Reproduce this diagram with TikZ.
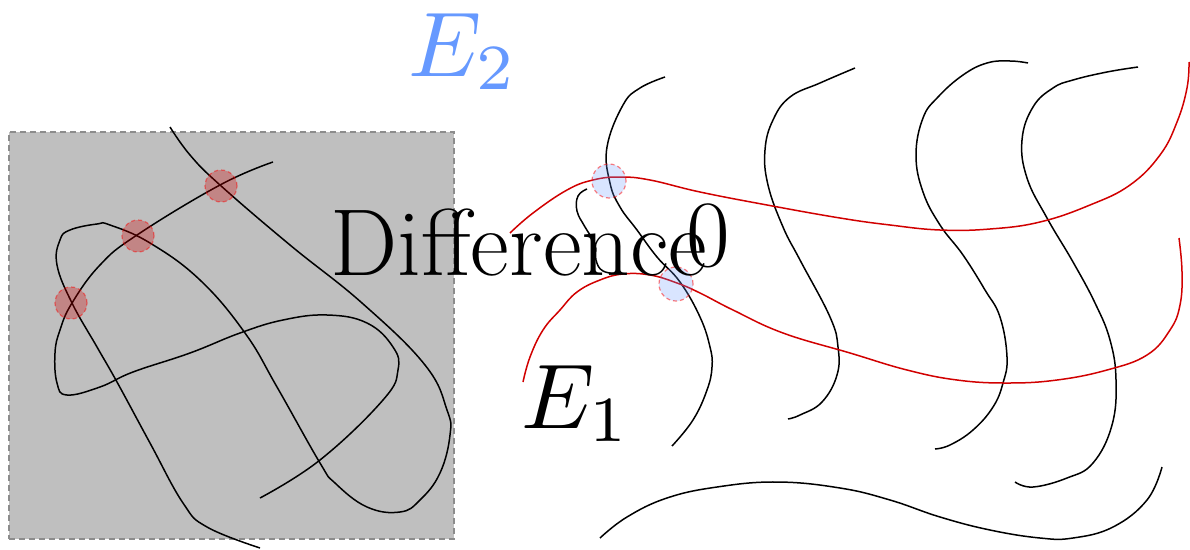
\documentclass[tikz,border=0pt]{standalone}
\usetikzlibrary{calc}
\definecolor{etwo}{HTML}{6699FF}
\definecolor{curvered}{rgb}{0.82,0,0}
\tikzset{
  curve/.style={line width=1.5pt, black},
  redcurve/.style={line width=1.5pt, curvered},
  reddot/.style={circle, minimum size=32pt, inner sep=0pt, fill=red!80!black, fill opacity=0.3, draw=red, draw opacity=0.45, dash pattern=on 4pt off 3pt, line width=1.2pt},
  bluedot/.style={circle, minimum size=34pt, inner sep=0pt, fill=etwo, fill opacity=0.25, draw=red, draw opacity=0.5, dash pattern=on 4pt off 3pt, line width=1.2pt},
  bigtext/.style={inner sep=0pt, font=\fontsize{95}{100}\selectfont},
  mathtext/.style={inner sep=0pt, font=\normalsize, scale=9.2},
}
\begin{document}
\begin{tikzpicture}[x=1pt, y=-1pt]
\useasboundingbox (0,0) rectangle (1190,549);
% gray region
\node[draw=black!45, dash pattern=on 6pt off 4pt, line width=1.5pt, fill=black!25, minimum width=445pt, minimum height=407pt, inner sep=0pt, anchor=north west] (box) at (8,131) {};
% left curves
\draw[curve] plot[smooth, tension=0.7] coordinates {(170,127) (190,155) (220,185) (290,245) (362,303) (425,365) (447,410) (450,435) (440,473) (420,500) (400,512) (367,507) (335,483) (320,463) (277,387) (245,333) (200,280) (150,243) (110,225) (97,224) (70,230) (60,240) (57,265) (72,303) (97,347) (117,382) (150,443) (183,503) (207,527) (260,548)};
\draw[curve] plot[smooth, tension=0.7] coordinates {(273,162) (220,185) (137,235) (100,265) (72,303) (60,330) (55,353) (57,383) (67,395) (100,387) (133,372) (190,353) (240,333) (283,320) (327,315) (367,323) (393,347) (398,370) (383,400) (320,460) (260,498)};
% right black waves
\draw[curve] plot[smooth, tension=0.7] coordinates {(665,77) (640,88) (623,105) (607,147) (610,183) (620,207) (637,230) (657,257) (680,282) (700,317) (710,347) (712,367) (707,390) (693,420) (672,446)};
\draw[curve] plot[smooth, tension=0.7] coordinates {(587,189) (578,196) (577,211) (585,227) (595,244) (596,260) (603,271) (620,274)};
\draw[curve] plot[smooth, tension=0.7] coordinates {(855,68) (820,83) (790,97) (773,120) (765,150) (768,185) (783,227) (800,260) (830,317) (838,347) (837,375) (822,402) (800,415) (788,419)};
\draw[curve] plot[smooth, tension=0.7] coordinates {(1028,63) (1010,61) (987,63) (963,75) (938,97) (923,118) (916,155) (923,192) (940,225) (963,255) (985,290) (1000,317) (1007,357) (1003,383) (993,407) (973,430) (950,445) (935,449)};
\draw[curve] plot[smooth, tension=0.7] coordinates {(1138,67) (1107,72) (1073,80) (1053,88) (1033,107) (1022,140) (1027,178) (1047,218) (1073,262) (1095,303) (1110,340) (1116,380) (1112,425) (1093,463) (1067,478) (1033,487) (1015,482)};
\draw[curve] plot[smooth, tension=0.7] coordinates {(600,538) (627,517) (667,498) (717,487) (777,482) (840,488) (890,500) (940,517) (990,530) (1040,538) (1073,538) (1113,527) (1147,500) (1162,467)};
% red curves
\draw[redcurve] plot[smooth, tension=0.7] coordinates {(510,233) (533,213) (567,190) (593,180) (620,177) (650,180) (700,192) (767,205) (840,218) (890,225) (940,230) (990,229) (1040,222) (1090,205) (1130,185) (1160,155) (1177,122) (1187,88) (1189,62)};
\draw[redcurve] plot[smooth, tension=0.7] coordinates {(523,382) (530,357) (543,330) (560,310) (577,292) (600,280) (623,274) (650,275) (677,283) (700,293) (733,310) (783,333) (850,353) (907,370) (957,380) (1007,383) (1057,380) (1107,370) (1147,355) (1170,330) (1180,305) (1182,272) (1179,238)};
% dots
\node[reddot] (r1) at (221,186) {};
\node[reddot] (r2) at (138,236) {};
\node[reddot] (r3) at (71,303) {};
\node[bluedot] (b1) at (609,181) {};
\node[bluedot] (b2) at (676,284) {};
% labels
\node[mathtext, anchor=base west, text=etwo] (e2) at (407,76) {$E_2$};
\node[bigtext, anchor=base west] (diff) at (330,275) {Difference};
\node[bigtext, anchor=base west] (zero) at (686,266) {0};
\node[mathtext, anchor=base west] (e1) at (520,428) {$E_1$};
\end{tikzpicture}
\end{document}
